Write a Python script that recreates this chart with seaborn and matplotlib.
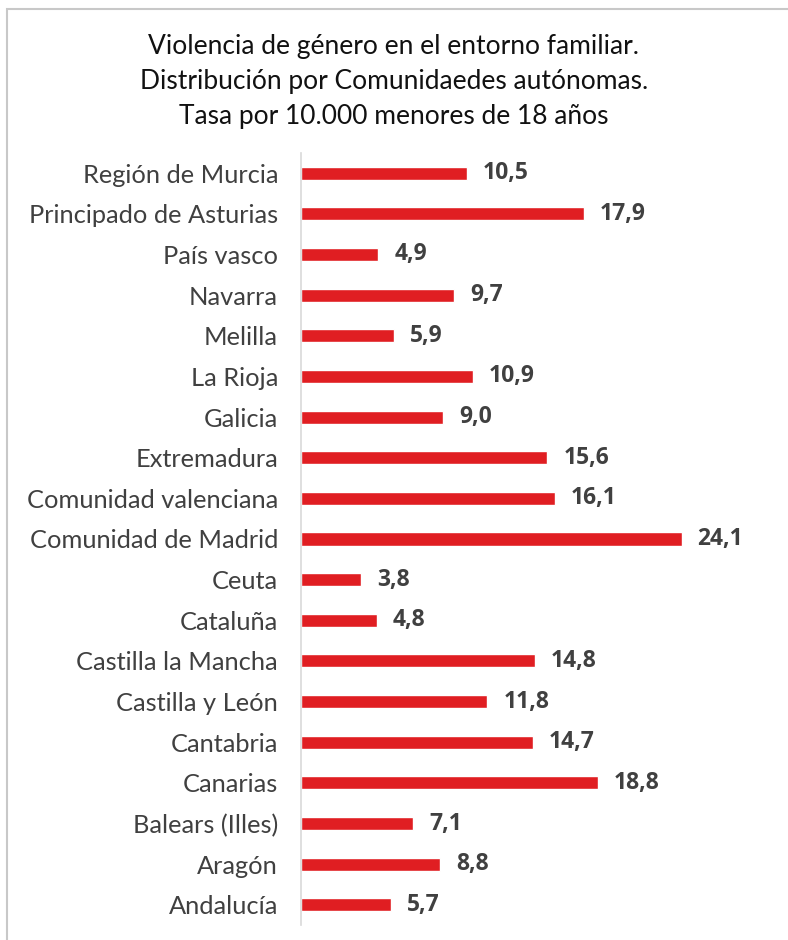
import matplotlib
matplotlib.use("Agg")
import matplotlib.pyplot as plt
import seaborn as sns
import pandas as pd
from matplotlib.patches import Rectangle

regiones = [
    "Región de Murcia", "Principado de Asturias", "País vasco", "Navarra",
    "Melilla", "La Rioja", "Galicia", "Extremadura", "Comunidad valenciana",
    "Comunidad de Madrid", "Ceuta", "Cataluña", "Castilla la Mancha",
    "Castilla y León", "Cantabria", "Canarias", "Balears (Illes)", "Aragón",
    "Andalucía",
]
tasas = [10.5, 17.9, 4.9, 9.7, 5.9, 10.9, 9.0, 15.6, 16.1, 24.1,
         3.8, 4.8, 14.8, 11.8, 14.7, 18.8, 7.1, 8.8, 5.7]

titulo = ("Violencia de género en el entorno familiar.\n"
          "Distribución por Comunidaedes autónomas.\n"
          "Tasa por 10.000 menores de 18 años")

sns.set_theme(style="white")
plt.rcParams["font.family"] = ["Lato", "DejaVu Sans"]

df = pd.DataFrame({"region": regiones, "tasa": tasas})

W, H = 788, 940
fig = plt.figure(figsize=(W / 100, H / 100), dpi=100)
fig.patch.set_facecolor("white")

# frame around the figure
fig.patches.append(Rectangle((7 / W, -0.05), 1.2, (H - 9) / H + 0.05,
                             transform=fig.transFigure, fill=False,
                             edgecolor="#c8c8c8", linewidth=1.5))

ax = fig.add_axes([301 / W, 1 - 925.3 / H, 474 / W, (925.3 - 152.7) / H])
sns.barplot(data=df, x="tasa", y="region", orient="h", color="#e01e22",
            saturation=1, width=0.32, ax=ax)

ax.set_xlim(0, 30)
ax.set_xlabel("")
ax.set_ylabel("")
ax.set_xticks([])
for s in ["top", "right", "bottom"]:
    ax.spines[s].set_visible(False)
ax.spines["left"].set_color("#d9d9d9")
ax.spines["left"].set_linewidth(1.2)
ax.tick_params(axis="y", length=0, pad=16.5, labelsize=18.3, labelcolor="#404040")
ax.set_facecolor("none")

for i, v in enumerate(tasas):
    ax.text(v + 1.0, i, f"{v:.1f}".replace(".", ","), va="center", ha="left",
            fontsize=16.5, fontweight="bold", color="#404040",
            family=["Open Sans", "DejaVu Sans"])

fig.text(0.5, 1 - 81.5 / H, titulo, ha="center", va="center", fontsize=19,
         color="#111111", linespacing=1.5)

fig.savefig("out.png", dpi=100)
